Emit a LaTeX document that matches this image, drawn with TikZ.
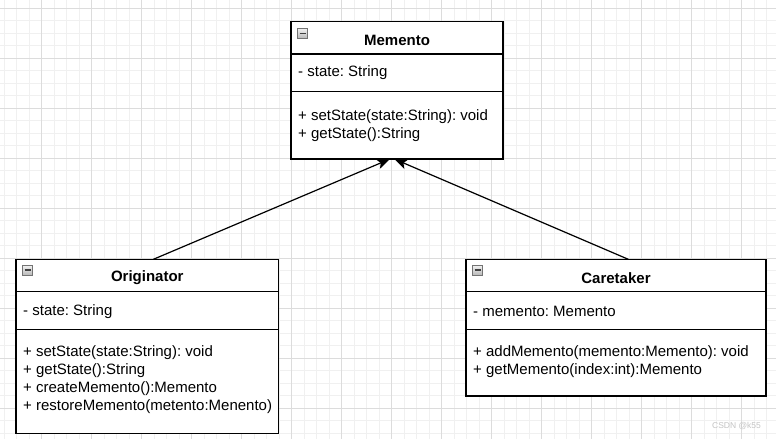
\documentclass[tikz,border=0pt]{standalone}
\usepackage{fontspec}
\setmainfont{Liberation Sans}
\usetikzlibrary{arrows.meta,calc}
\definecolor{gridmajor}{HTML}{DCDCDC}
\definecolor{gridminor}{HTML}{F0F0F0}
\definecolor{wm}{HTML}{C4C4C4}
\frenchspacing
\begin{document}
\frenchspacing
\begin{tikzpicture}[x=1pt,y=-1pt,
  cls/.style={draw=black,line width=1.1pt,fill=white,anchor=north west,inner sep=0pt,outer sep=0pt},
  divider/.style={draw=black,line width=1.1pt},
  txt/.style={anchor=base west,inner sep=0pt,font=\fontsize{15}{18}\selectfont\frenchspacing},
  ttl/.style={anchor=base,inner sep=0pt,font=\fontsize{15}{18}\selectfont\bfseries},
  icon/.style={draw=black!55,line width=0.7pt,top color=gray!10,bottom color=gray!55,minimum size=10pt,inner sep=0pt,
    path picture={\draw[line width=1.4pt,black!75] ([xshift=2pt]path picture bounding box.west) -- ([xshift=-2pt]path picture bounding box.east);}},
  arr/.style={draw=black,line width=1.2pt,-{Stealth[length=13pt,width=10pt,inset=3pt]}},
  minorgrid/.style={draw=gridminor,line width=0.8pt},
  majorgrid/.style={draw=gridmajor,line width=0.9pt}]
\useasboundingbox (0,0) rectangle (776,439);
\fill[white] (0,0) rectangle (776,439);
% grid
\foreach \i in {0,...,62} {\draw[minorgrid] ({4.2+12.5*\i},0) -- ({4.2+12.5*\i},439);}
\foreach \i in {0,...,35} {\draw[minorgrid] (0,{8.3+12.5*\i}) -- (776,{8.3+12.5*\i});}
\foreach \i in {0,...,15} {\draw[majorgrid] ({41.7+50*\i},0) -- ({41.7+50*\i},439);}
\foreach \i in {0,...,8} {\draw[majorgrid] (0,{8.3+50*\i}) -- (776,{8.3+50*\i});}

% Memento
\node[cls,minimum width=212pt,minimum height=137.5pt] (mem) at (291,21.5) {};
\draw[divider] (mem.west |- 0,54) -- (mem.east |- 0,54);
\draw[divider] (mem.west |- 0,91.7) -- (mem.east |- 0,91.7);
\node[icon] (memicon) at (302.5,33.3) {};
\node[ttl] (memtitle) at (397,45) {Memento};
\node[txt] (memattr) at (298,76.7) {- state: String};
\node[txt] (memop1) at (298,120) {+ setState(state:String): void};
\node[txt] (memop2) at (298,138) {+ getState():String};

% Originator
\node[cls,minimum width=262.7pt,minimum height=174pt] (orig) at (16,259.3) {};
\draw[divider] (orig.west |- 0,291.7) -- (orig.east |- 0,291.7);
\draw[divider] (orig.west |- 0,329.3) -- (orig.east |- 0,329.3);
\node[icon] (origicon) at (27.7,270) {};
\node[ttl] (origtitle) at (147.3,281.7) {Originator};
\node[txt] (origattr) at (23,315) {- state: String};
\node[txt] (origop1) at (23,356.7) {+ setState(state:String): void};
\node[txt] (origop2) at (23,374.7) {+ getState():String};
\node[txt] (origop3) at (23,392.7) {+ createMemento():Memento};
\node[txt] (origop4) at (23,410.7) {+ restoreMemento(metento:Menento)};

% Caretaker
\node[cls,minimum width=300pt,minimum height=136.7pt] (care) at (466,259.3) {};
\draw[divider] (care.west |- 0,291.7) -- (care.east |- 0,291.7);
\draw[divider] (care.west |- 0,329.3) -- (care.east |- 0,329.3);
\node[icon] (careicon) at (477.7,270) {};
\node[ttl] (caretitle) at (616,283) {Caretaker};
\node[txt] (careattr) at (473,316.7) {- memento: Memento};
\node[txt] (careop1) at (473,356.7) {+ addMemento(memento:Memento): void};
\node[txt] (careop2) at (473,374.7) {+ getMemento(index:int):Memento};

% connectors
\draw[arr] ($(orig.north west)!0.523!(orig.north east)$) -- ($(mem.south west)!0.467!(mem.south east)$);
\draw[arr] ($(care.north west)!0.541!(care.north east)$) -- ($(mem.south west)!0.487!(mem.south east)$);

% watermark
\node[anchor=center,inner sep=0pt,text=wm,font=\fontsize{8.5}{10}\selectfont] (wmark) at (736.5,425.7) {CSDN @k55};
\end{tikzpicture}
\end{document}
